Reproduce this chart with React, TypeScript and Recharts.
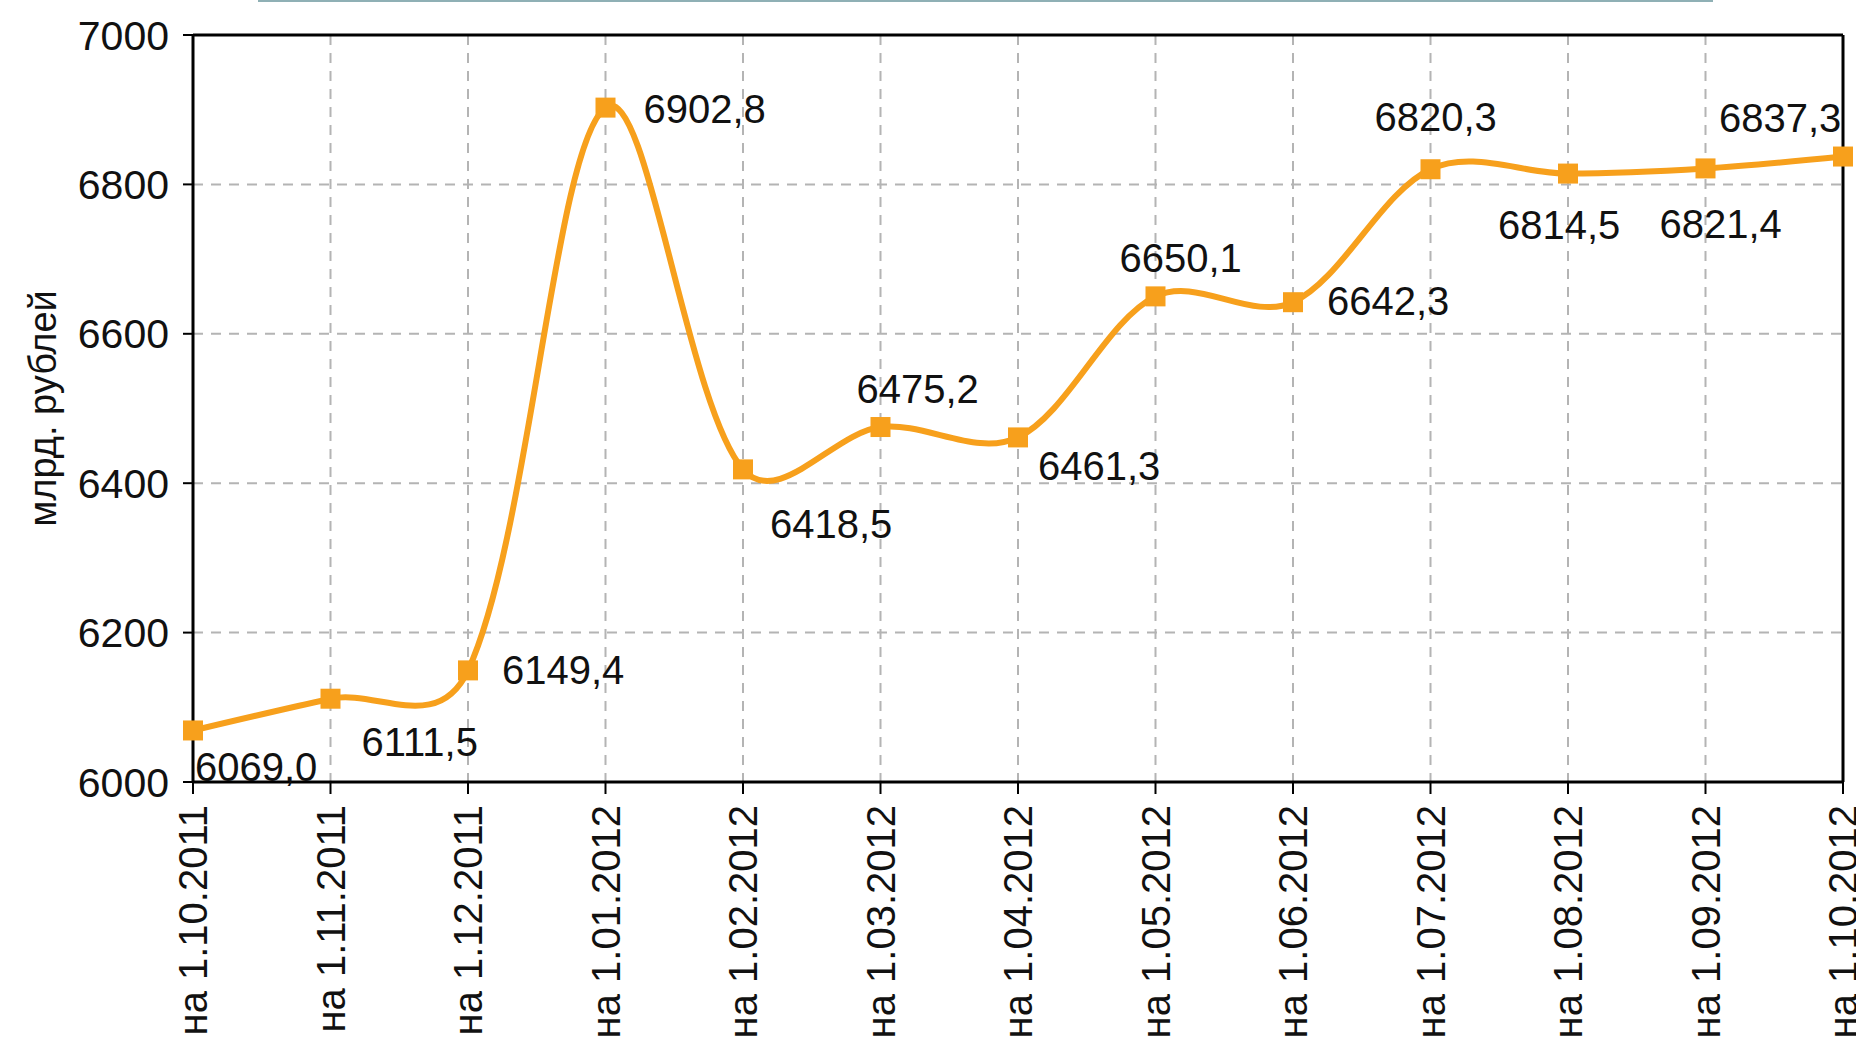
import { CartesianGrid, LabelList, Line, LineChart, ReferenceLine, XAxis, YAxis } from "recharts";

const dates = [
  "на 1.10.2011",
  "на 1.11.2011",
  "на 1.12.2011",
  "на 1.01.2012",
  "на 1.02.2012",
  "на 1.03.2012",
  "на 1.04.2012",
  "на 1.05.2012",
  "на 1.06.2012",
  "на 1.07.2012",
  "на 1.08.2012",
  "на 1.09.2012",
  "на 1.10.2012",
];
const values = [6069.0, 6111.5, 6149.4, 6902.8, 6418.5, 6475.2, 6461.3, 6650.1, 6642.3, 6820.3, 6814.5, 6821.4, 6837.3];
const yTicks = [6000, 6200, 6400, 6600, 6800, 7000];

// where each value label sits relative to its point (text left / baseline)
const labelOffsets: [number, number][] = [
  [2, 51], [31, 57], [34, 14], [38, 15], [27, 69], [-24, -24], [20, 43],
  [-36, -24], [34, 13], [-56, -38], [-70, 65], [-46, 70], [-124, -25],
];

const ORANGE = "#f7a01c";
const FONT = "'Liberation Sans', Arial, sans-serif";

const chartData = dates.map((d, i) => ({ date: d, value: values[i] }));

const fmt = (v: number) => v.toFixed(1).replace(".", ",");

// smoothing like the old office charts: catmull-rom, tangents weighted by sqrt of segment length
function officeSmooth(context: any) {
  let xs: number[] = [];
  let ys: number[] = [];
  return {
    areaStart() {},
    areaEnd() {},
    lineStart() {
      xs = [];
      ys = [];
    },
    point(x: number, y: number) {
      xs.push(+x);
      ys.push(+y);
    },
    lineEnd() {
      const n = xs.length;
      if (!n) return;
      context.moveTo(xs[0], ys[0]);
      const dist = (i: number, j: number) => Math.sqrt(Math.hypot(xs[j] - xs[i], ys[j] - ys[i]));
      for (let i = 0; i < n - 1; i++) {
        let c1x = xs[i];
        let c1y = ys[i];
        if (i > 0) {
          const a = dist(i - 1, i);
          const b = dist(i, i + 1);
          const k = b / (a + b) / 3;
          c1x += (xs[i + 1] - xs[i - 1]) * k;
          c1y += (ys[i + 1] - ys[i - 1]) * k;
        }
        let c2x = xs[i + 1];
        let c2y = ys[i + 1];
        if (i + 2 < n) {
          const a = dist(i, i + 1);
          const b = dist(i + 1, i + 2);
          const k = a / (a + b) / 3;
          c2x -= (xs[i + 2] - xs[i]) * k;
          c2y -= (ys[i + 2] - ys[i]) * k;
        }
        context.bezierCurveTo(c1x, c1y, c2x, c2y, xs[i + 1], ys[i + 1]);
      }
    },
  };
}

function SquareDot(props: any) {
  const { cx, cy, index } = props;
  if (cx == null || cy == null) return null;
  return <rect key={`dot-${index}`} x={cx - 10} y={cy - 10} width={20} height={20} fill={ORANGE} />;
}

function ValueLabel(props: any) {
  const vb = props.viewBox || {};
  const x = props.x ?? vb.x;
  const y = props.y ?? vb.y;
  const idx = props.index ?? values.indexOf(Number(props.value));
  const [dx, dy] = labelOffsets[idx] || [10, -10];
  return (
    <text x={x + dx} y={y + dy} fontSize={40} fontFamily={FONT} fill="#111">
      {fmt(Number(props.value))}
    </text>
  );
}

function DateTick({ x, y, payload }: any) {
  return (
    <g transform={`translate(${x},${y})`}>
      <text x={0} y={0} dy="0.35em" textAnchor="end" transform="rotate(-90)" fontSize={40} fontFamily={FONT} fill="#111">
        {payload.value}
      </text>
    </g>
  );
}

function AxisTitle(props: any) {
  const vb = props.viewBox || { x: 0, y: 35, height: 747 };
  const cx = vb.x + 43;
  const cy = vb.y + vb.height / 2;
  return (
    <text
      x={cx}
      y={cy}
      textAnchor="middle"
      dominantBaseline="central"
      transform={`rotate(-90, ${cx}, ${cy})`}
      fontSize={38}
      fontFamily={FONT}
      fill="#111"
    >
      млрд. рублей
    </text>
  );
}

export default function App() {
  return (
    <div
      style={{
        position: "absolute",
        left: 0,
        top: 0,
        width: 1856,
        height: 1055,
        background: "#fff",
        overflow: "hidden",
      }}
    >
      <div style={{ position: "absolute", left: 258, top: 0, width: 1455, height: 2, background: "#8fb0b5" }} />
      <LineChart width={1856} height={1055} data={chartData} margin={{ top: 35, right: 13, bottom: 0, left: 0 }}>
        <CartesianGrid stroke="#b4b4b4" strokeWidth={2} strokeDasharray="10 8" />
        <XAxis
          dataKey="date"
          height={273}
          interval={0}
          tick={<DateTick />}
          tickSize={12}
          tickMargin={11}
          axisLine={{ stroke: "#000", strokeWidth: 3 }}
          tickLine={{ stroke: "#000", strokeWidth: 2 }}
        />
        <YAxis
          width={193}
          domain={[6000, 7000]}
          ticks={yTicks}
          interval={0}
          tickSize={10}
          tickMargin={14}
          tick={{ fill: "#111", fontSize: 41, fontFamily: FONT }}
          axisLine={{ stroke: "#000", strokeWidth: 3 }}
          tickLine={{ stroke: "#000", strokeWidth: 2 }}
          label={{ content: <AxisTitle /> }}
        />
        <ReferenceLine y={7000} stroke="#000" strokeWidth={3} />
        <ReferenceLine x={dates[dates.length - 1]} stroke="#000" strokeWidth={3} />
        <Line
          dataKey="value"
          type={officeSmooth as any}
          stroke={ORANGE}
          strokeWidth={6}
          dot={SquareDot}
          activeDot={false}
          isAnimationActive={false}
        >
          <LabelList dataKey="value" content={<ValueLabel />} />
        </Line>
      </LineChart>
    </div>
  );
}
